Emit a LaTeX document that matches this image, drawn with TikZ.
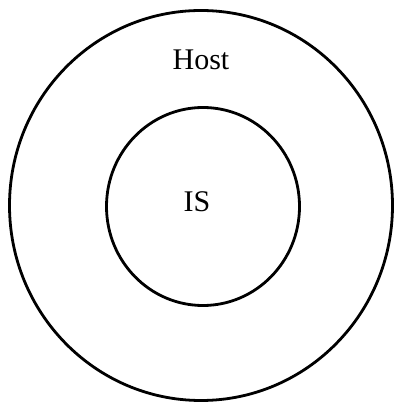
\documentclass[tikz,border=0pt]{standalone}
\usepackage{fontspec}
\setmainfont{Liberation Serif}
\usetikzlibrary{shapes.geometric}

\begin{document}
\begin{tikzpicture}[x=1pt, y=1pt,
    ring/.style={ellipse, draw, line width=2.8pt, inner sep=0pt},
    lbl/.style={anchor=base, font=\fontsize{30}{34}\selectfont},
]
\useasboundingbox (0,0) rectangle (394,404);

% Rings
\node[ring, minimum width=383, minimum height=390] (host) at (201,198.5) {};
\node[ring, minimum width=193, minimum height=198] (is) at (203,197.5) {};

% Labels
\node[lbl] (hostlbl) at (201,334) {Host};
\node[lbl] (islbl) at (197,192) {IS};
\end{tikzpicture}
\end{document}
